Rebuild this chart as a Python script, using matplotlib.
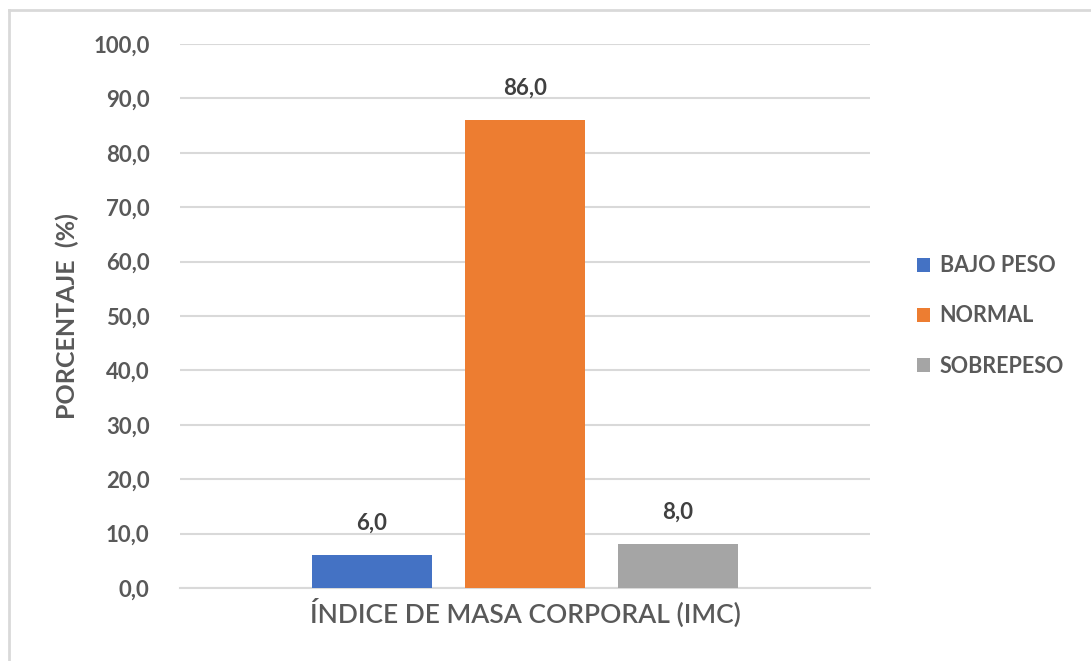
import numpy as np
import matplotlib.pyplot as plt
from matplotlib.lines import Line2D

# Datos
categorias = ['BAJO PESO', 'NORMAL', 'SOBREPESO']
porcentajes = [6.0, 86.0, 8.0]
colores = ['#4472c4', '#ed7d31', '#a5a5a5']
yticks = np.arange(0, 101, 10)

gris_texto = '#595959'
plt.rcParams['font.family'] = ['Lato', 'DejaVu Sans']

fig = plt.figure(figsize=(10.91, 6.61), dpi=100)
ax = fig.add_axes([180/1091, 73/661, 690/1091, 544/661])

pos = np.arange(len(categorias)) - 1
barras = ax.bar(pos, porcentajes, width=0.79, color=colores, label=categorias, zorder=3)

for b, v in zip(barras, porcentajes):
    ax.annotate(f'{v:.1f}'.replace('.', ','), (b.get_x() + b.get_width()/2, v),
                xytext=(0, 23), textcoords='offset points', ha='center', va='center',
                fontsize=16, fontweight='bold', color='#404040')

ax.set_xlim(-345/153, 345/153)
ax.set_ylim(0, 100)
ax.set_yticks(yticks)
ax.set_yticklabels([f'{t:.1f}'.replace('.', ',') for t in yticks],
                   fontsize=16, fontweight='bold', color=gris_texto)
ax.set_xticks([])
ax.tick_params(axis='y', length=0, pad=22)
ax.grid(axis='y', color='#d9d9d9', linewidth=1.5, zorder=0)
for s in ['top', 'right', 'left']:
    ax.spines[s].set_visible(False)
ax.spines['bottom'].set_color('#d9d9d9')
ax.spines['bottom'].set_linewidth(1.5)

ax.set_xlabel('ÍNDICE DE MASA CORPORAL (IMC)', fontsize=19, fontweight='semibold',
              color=gris_texto, labelpad=8)
ax.set_ylabel('PORCENTAJE  (%)', fontsize=18, fontweight='bold', color=gris_texto,
              va='center')
ax.yaxis.set_label_coords(-113/690, 0.5)

leg = ax.legend(loc='center left', bbox_to_anchor=(1.04, 0.5), frameon=False,
                handlelength=0.6, handleheight=0.6, handletextpad=0.45,
                labelspacing=1.35, prop={'weight': 'bold', 'size': 15.5})
for t in leg.get_texts():
    t.set_color(gris_texto)

# marco del gráfico (izquierda y arriba)
fig.add_artist(Line2D([9/1091, 9/1091], [0, 1 - 10/661], color='#d9d9d9', linewidth=2))
fig.add_artist(Line2D([9/1091, 1], [1 - 10/661, 1 - 10/661], color='#d9d9d9', linewidth=2))

fig.savefig('out.png', dpi=100)
